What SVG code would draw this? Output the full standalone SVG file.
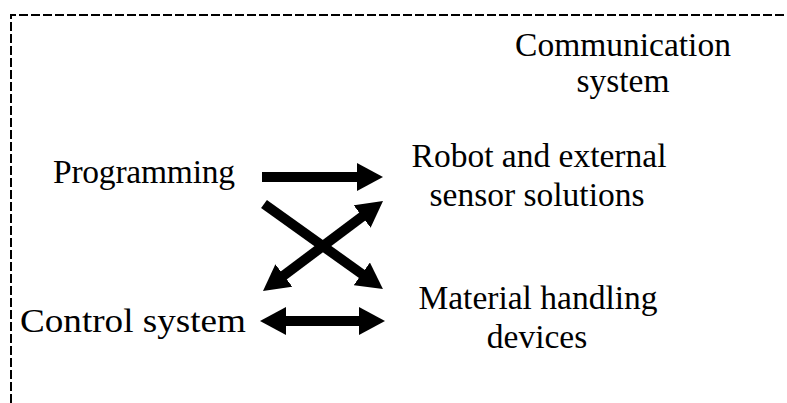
<svg xmlns="http://www.w3.org/2000/svg" width="787" height="403" viewBox="0 0 787 403">
<style>
text{font-family:"Liberation Serif","Times New Roman",serif;font-size:33.5px;fill:#000}
.c{text-anchor:middle}
.arr{stroke:#000;stroke-width:10;fill:none}
.border{stroke:#000;stroke-width:2;fill:none;stroke-dasharray:9 3}
</style>
<defs>
<marker id="head" viewBox="0 0 26 28" refX="1" refY="14" markerWidth="26" markerHeight="28" markerUnits="userSpaceOnUse" orient="auto-start-reverse">
<path d="M0,0 L26,14 L0,28 z" fill="#000"/>
</marker>
</defs>
<path class="border" d="M11,403 V15 H787"/>
<g id="comm"><text class="c" x="623" y="56">Communication</text><text class="c" x="623" y="92">system</text></g>
<g id="prog"><text x="53" y="183" textLength="182">Programming</text></g>
<g id="robot"><text class="c" x="539" y="167">Robot and external</text><text class="c" x="537" y="206">sensor solutions</text></g>
<g id="control"><text x="20" y="332" textLength="226" lengthAdjust="spacingAndGlyphs">Control system</text></g>
<g id="material"><text class="c" x="538" y="309">Material handling</text><text class="c" x="537" y="348">devices</text></g>
<g id="connectors">
<line class="arr" x1="262" y1="177" x2="358" y2="177" marker-end="url(#head)"/>
<line class="arr" x1="264" y1="204" x2="362.6" y2="274.5" marker-end="url(#head)"/>
<line class="arr" x1="283" y1="276" x2="363" y2="216" marker-start="url(#head)" marker-end="url(#head)"/>
<line class="arr" x1="285" y1="321" x2="360" y2="321" marker-start="url(#head)" marker-end="url(#head)"/>
</g>
</svg>
